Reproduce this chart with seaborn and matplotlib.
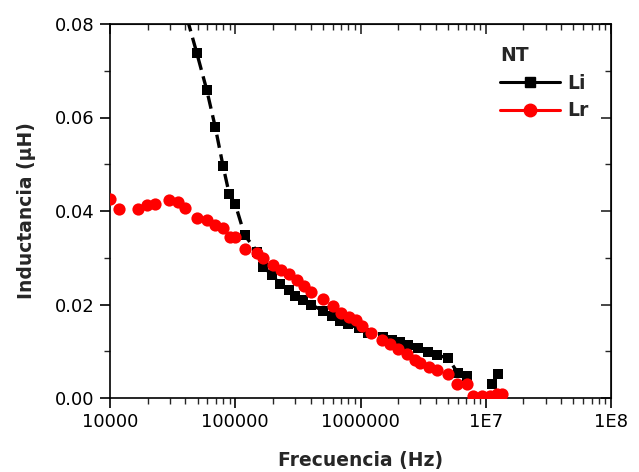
import matplotlib
matplotlib.use("Agg")
import matplotlib.pyplot as plt
import seaborn as sns
import numpy as np
import pandas as pd
from matplotlib.lines import Line2D
from matplotlib.ticker import FixedLocator, FixedFormatter, LogLocator, NullFormatter, MultipleLocator

sns.set_style("ticks")
plt.rcParams['font.family'] = ['DejaVu Sans']

li_freq = [31600, 39800, 49200, 59200, 69300, 79800, 89600, 99600, 119000, 150000,
           168000, 196000, 228000, 270000, 300000, 346000, 401000, 499000, 589000,
           686000, 800000, 977000, 1150000, 1510000, 1770000, 2070000, 2390000,
           2880000, 3460000, 4080000, 5000000, 6000000, 7080000, 11200000, 12500000]
li_val = [0.0960, 0.0827, 0.0739, 0.0659, 0.0579, 0.0497, 0.0436, 0.0416, 0.0348, 0.0313,
          0.0281, 0.0263, 0.0244, 0.0231, 0.0218, 0.0210, 0.0200, 0.0187, 0.0175,
          0.0165, 0.0158, 0.0149, 0.0138, 0.0130, 0.0124, 0.0120, 0.0113,
          0.0107, 0.0099, 0.0092, 0.0085, 0.0053, 0.0046, 0.0030, 0.0051]
li_segment = [0] * 33 + [1, 1]

lr_freq = [10000, 11900, 16800, 19600, 22900, 29600, 34700, 39900, 49200, 59200,
           68900, 80400, 90800, 99600, 120000, 148000, 168000, 199000, 232000,
           270000, 310000, 354000, 403000, 499000, 607000, 695000, 810000, 920000,
           1020000, 1210000, 1490000, 1720000, 2000000, 2340000, 2720000, 2990000,
           3520000, 4060000, 5020000, 5930000, 7050000, 7960000, 9290000, 10800000,
           12200000, 13400000]
lr_val = [0.0425, 0.0404, 0.0404, 0.0412, 0.0416, 0.0424, 0.0419, 0.0406, 0.0384, 0.0381,
          0.0369, 0.0364, 0.0345, 0.0345, 0.0319, 0.0310, 0.0299, 0.0284, 0.0274,
          0.0265, 0.0252, 0.0240, 0.0227, 0.0212, 0.0197, 0.0182, 0.0174, 0.0167,
          0.0154, 0.0140, 0.0124, 0.0116, 0.0104, 0.0094, 0.0081, 0.0074,
          0.0067, 0.0060, 0.0051, 0.0030, 0.0030, 0.0005, 0.0005, 0.0005,
          0.0009, 0.0009]

x_ticks = [1e4, 1e5, 1e6, 1e7, 1e8]
x_tick_labels = ["10000", "100000", "1000000", "1E7", "1E8"]
y_ticks = [0.00, 0.02, 0.04, 0.06, 0.08]
y_tick_labels = ["0.00", "0.02", "0.04", "0.06", "0.08"]

fig = plt.figure(figsize=(6.39, 4.72), dpi=100)
ax = fig.add_axes([110/639, 1-398/472, (611-110)/639, (398-24)/472])

df_li = pd.DataFrame({"f": li_freq, "L": li_val, "seg": li_segment})
df_lr = pd.DataFrame({"f": lr_freq, "L": lr_val})

# Li: dashed guide line + square markers
sns.lineplot(data=df_li, x="f", y="L", units="seg", estimator=None, ax=ax,
             color="black", linewidth=2.4, marker="s", markersize=6.8,
             markeredgewidth=0, sort=False, zorder=3)
for ln in ax.lines:
    ln.set_linestyle((0, (4, 2)))
# Lr: circle markers only
sns.lineplot(data=df_lr, x="f", y="L", ax=ax, color="red", linewidth=0,
             marker="o", markersize=8.8, markeredgewidth=0, sort=False, zorder=4)

ax.set_xscale("log")
ax.set_xlim(1e4, 1e8)
ax.set_ylim(0, 0.08)

ax.xaxis.set_major_locator(FixedLocator(x_ticks))
ax.xaxis.set_major_formatter(FixedFormatter(x_tick_labels))
ax.xaxis.set_minor_locator(LogLocator(base=10, subs=np.arange(2, 10)))
ax.xaxis.set_minor_formatter(NullFormatter())
ax.yaxis.set_major_locator(FixedLocator(y_ticks))
ax.yaxis.set_major_formatter(FixedFormatter(y_tick_labels))
ax.yaxis.set_minor_locator(MultipleLocator(0.01))

for s in ax.spines.values():
    s.set_linewidth(1.2)
    s.set_color("black")
    s.set_visible(True)

ax.tick_params(axis="both", which="major", direction="out", length=7, width=1.2,
               labelsize=13, colors="black", pad=4)
ax.tick_params(axis="both", which="minor", direction="out", length=4, width=1.0)
ax.tick_params(axis="x", which="both", top=False)
ax.tick_params(axis="y", which="both", right=False)

axt = ax.secondary_xaxis("top")
axt.set_xticks(x_ticks)
axt.set_xticklabels([])
axt.xaxis.set_minor_locator(LogLocator(base=10, subs=np.arange(2, 10)))
axt.xaxis.set_minor_formatter(NullFormatter())
axt.tick_params(which="major", direction="in", length=7, width=1.2)
axt.tick_params(which="minor", direction="in", length=4, width=1.0)
axr = ax.secondary_yaxis("right")
axr.set_yticks(y_ticks)
axr.set_yticklabels([])
axr.yaxis.set_minor_locator(MultipleLocator(0.01))
axr.tick_params(which="major", direction="in", length=7, width=1.2)
axr.tick_params(which="minor", direction="in", length=4, width=1.0)

ax.set_xlabel("Frecuencia (Hz)", fontsize=13.5, fontweight="bold", labelpad=14)
ax.set_ylabel("Inductancia (µH)", fontsize=13.5, fontweight="bold", labelpad=14)

handles = [Line2D([], [], color="black", linewidth=2.2, marker="s", markersize=7),
           Line2D([], [], color="red", linewidth=2.2, marker="o", markersize=9)]
leg = ax.legend(handles, ["Li", "Lr"], title="NT", frameon=False,
                loc="upper left", bbox_to_anchor=(0.745, 0.985),
                prop={"weight": "bold", "size": 13.5}, handlelength=3.2,
                handletextpad=0.4, labelspacing=0.45, alignment="left")
leg.get_title().set_fontweight("bold")
leg.get_title().set_fontsize(13.5)

fig.savefig("out.png", dpi=100)
